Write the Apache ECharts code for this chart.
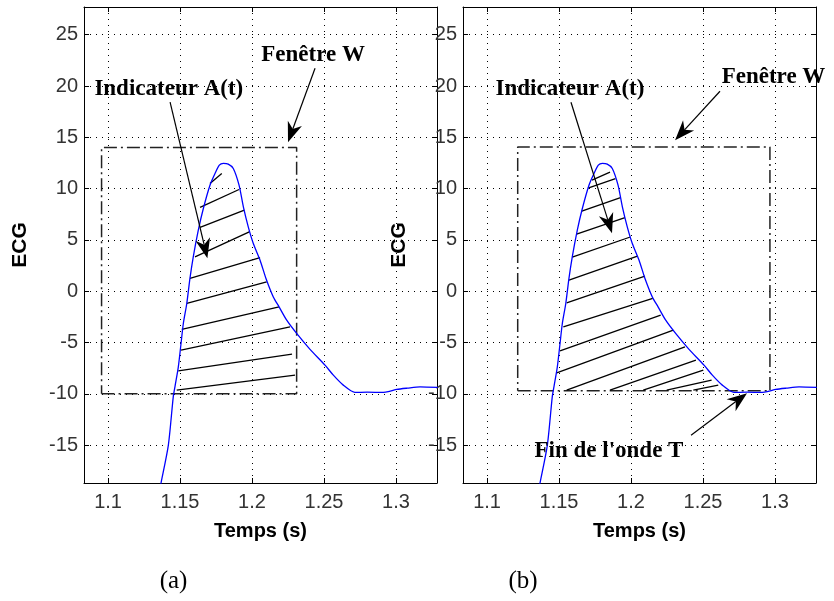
<!DOCTYPE html>
<html>
<head>
<meta charset="utf-8">
<script src="https://cdn.jsdelivr.net/npm/echarts@6/dist/echarts.min.js"></script>
<style>
html,body{margin:0;padding:0;background:#fff}
#chart{width:834px;height:601px}
</style>
</head>
<body>
<div id="chart"></div>
<script>
// ECG around the T wave: time (s) and amplitude
const ecgTime  = [1.1350, 1.1368, 1.1419, 1.1453, 1.1465, 1.1488, 1.1507, 1.1523, 1.1547, 1.1569, 1.1592, 1.1627, 1.1662, 1.1708, 1.1743, 1.1773, 1.1801, 1.1835, 1.1870, 1.1910, 1.1940, 1.1974, 1.2009, 1.2056, 1.2097, 1.2148, 1.2188, 1.2241, 1.2310, 1.2403, 1.2507, 1.2565, 1.2634, 1.2715, 1.2800, 1.2912, 1.2960, 1.3005, 1.3080, 1.3167, 1.3290];
const ecgValue = [-20.0, -18.7, -15.0, -10.3, -9.3, -7.4, -5.1, -3.15, -1.2, 1.24, 3.34, 5.95, 8.06, 10.33, 11.47, 12.28, 12.45, 12.38, 11.96, 10.33, 8.22, 6.27, 4.65, 3.02, 1.24, -0.56, -1.53, -2.83, -4.12, -5.67, -7.21, -8.19, -9.16, -9.87, -9.85, -9.87, -9.75, -9.58, -9.45, -9.33, -9.38];

// Axis ticks
const timeTicks = [1.1, 1.15, 1.2, 1.25, 1.3];
const ecgTicks = [-15, -10, -5, 0, 5, 10, 15, 20, 25];
const timeRange = [1.0833, 1.3285];
const ecgRange = [-18.7, 27.7];

// Analysis window W: [tStart, tEnd, vLow, vHigh]
const windowA = [1.0955, 1.2310, -10.0, 14.0];
const windowB = [1.1213, 1.2965, -9.7, 14.05];

// Hatching of the area indicator A(t): [t0, v0, t1, v1]
const hatchA = [
  [1.1708, 10.50, 1.1790, 11.47],
  [1.1639, 8.16, 1.1910, 9.91],
  [1.1639, 6.21, 1.1947, 7.89],
  [1.1604, 3.34, 1.1981, 5.78],
  [1.1569, 1.24, 1.2056, 3.28],
  [1.1547, -1.20, 1.2102, 0.91],
  [1.1512, -3.73, 1.2188, -1.53],
  [1.1507, -5.75, 1.2264, -3.48],
  [1.1488, -7.77, 1.2278, -6.14],
  [1.1477, -9.65, 1.2299, -8.19]
];
const hatchB = [
  [1.1729, 10.82, 1.1854, 11.60],
  [1.1701, 10.04, 1.1892, 10.96],
  [1.1658, 7.80, 1.1927, 9.11],
  [1.1622, 5.56, 1.1958, 7.17],
  [1.1592, 3.31, 1.1995, 5.28],
  [1.1569, 1.07, 1.2045, 3.41],
  [1.1553, -1.14, 1.2097, 1.46],
  [1.1530, -3.48, 1.2151, -0.71],
  [1.1507, -5.82, 1.2206, -2.34],
  [1.1484, -7.96, 1.2294, -3.80],
  [1.1553, -9.65, 1.2375, -5.43],
  [1.1854, -9.65, 1.2451, -6.73],
  [1.2085, -9.65, 1.2502, -7.70],
  [1.2248, -9.65, 1.2560, -8.67],
  [1.2433, -9.65, 1.2606, -9.16]
];

// Annotations: text [t, v, label] and arrows [tFrom, vFrom, tTip, vTip]
const labelsA = [
  [1.1422, 19.69, 'Indicateur A(t)'],
  [1.2424, 23.0, 'Fenêtre W']
];
const arrowsA = [
  [1.1431, 18.42, 1.1690, 3.2],
  [1.2438, 21.73, 1.2250, 14.52]
];
const labelsB = [
  [1.1576, 19.69, 'Indicateur A(t)'],
  [1.2990, 20.86, 'Fenêtre W'],
  [1.1847, -15.6, "Fin de l'onde T"]
];
const arrowsB = [
  [1.1583, 18.42, 1.1868, 5.65],
  [1.2618, 19.49, 1.2306, 14.72],
  [1.2417, -14.04, 1.2806, -9.94]
];

const panelNames = ['(a)', '(b)'];

const sansFont = '"Liberation Sans", Arial, sans-serif';
const serifFont = '"Liberation Serif", "Times New Roman", serif';

const panels = [
  { left: 84, win: windowA, hatch: hatchA, labels: labelsA, arrows: arrowsA },
  { left: 463, win: windowB, hatch: hatchB, labels: labelsB, arrows: arrowsB }
];
const plotTop = 7, plotW = 353, plotH = 476;

const grids = [], xAxes = [], yAxes = [], series = [];

panels.forEach((p, i) => {
  grids.push({ left: p.left, top: plotTop, width: plotW, height: plotH, show: true, backgroundColor: '#fff', borderWidth: 0 });
  const tickStyle = { show: true, inside: true, length: 5, lineStyle: { color: '#000', width: 1 } };
  const lineStyle = { show: true, onZero: false, lineStyle: { color: '#000', width: 1 } };
  const dotted = { show: true, lineStyle: { color: '#000', width: 1, type: [1, 5] } };
  xAxes.push({
    gridIndex: i, type: 'value', position: 'bottom',
    min: timeRange[0], max: timeRange[1], minInterval: 0.05, maxInterval: 0.05,
    axisLine: lineStyle, axisTick: tickStyle, splitLine: dotted,
    axisLabel: {
      showMinLabel: false, showMaxLabel: false, margin: 9,
      fontFamily: sansFont, fontSize: 20, color: '#333',
      formatter: v => timeTicks.some(t => Math.abs(t - v) < 1e-6) ? String(+v.toFixed(2)) : ''
    },
    name: 'Temps (s)', nameLocation: 'middle', nameGap: 38,
    nameTextStyle: { fontFamily: sansFont, fontSize: 20, fontWeight: 'bold', color: '#000' }
  });
  xAxes.push({
    gridIndex: i, type: 'value', position: 'top',
    min: timeRange[0], max: timeRange[1], minInterval: 0.05, maxInterval: 0.05,
    axisLine: lineStyle, axisTick: tickStyle, axisLabel: { show: false }, splitLine: { show: false }
  });
  yAxes.push({
    gridIndex: i, type: 'value', position: 'left',
    min: ecgRange[0], max: ecgRange[1], minInterval: 5, maxInterval: 5,
    axisLine: lineStyle, axisTick: tickStyle, splitLine: dotted,
    axisLabel: {
      showMinLabel: false, showMaxLabel: false, margin: 6,
      fontFamily: sansFont, fontSize: 20, color: '#333',
      formatter: v => ecgTicks.some(t => Math.abs(t - v) < 1e-6) ? String(Math.round(v)) : ''
    },
    name: 'ECG', nameLocation: 'middle', nameRotate: 90, nameGap: 53,
    nameTextStyle: { fontFamily: sansFont, fontSize: 21, fontWeight: 'bold', color: '#000' }
  });
  yAxes.push({
    gridIndex: i, type: 'value', position: 'right',
    min: ecgRange[0], max: ecgRange[1], minInterval: 5, maxInterval: 5,
    axisLine: lineStyle, axisTick: tickStyle, axisLabel: { show: false }, splitLine: { show: false }
  });

  const xi = 2 * i, yi = 2 * i;

  // window W (dash-dot rectangle)
  const w = p.win;
  series.push({
    type: 'line', xAxisIndex: xi, yAxisIndex: yi, showSymbol: false, silent: true, z: 2,
    data: [[w[0], w[2]], [w[1], w[2]], [w[1], w[3]], [w[0], w[3]], [w[0], w[2]]],
    lineStyle: { color: '#222', width: 1.5, type: [13, 4, 2, 4] }
  });

  // hatching
  series.push({
    type: 'lines', coordinateSystem: 'cartesian2d', xAxisIndex: xi, yAxisIndex: yi, silent: true, z: 3,
    data: p.hatch.map(s => ({ coords: [[s[0], s[1]], [s[2], s[3]]] })),
    lineStyle: { color: '#000', width: 1.3, opacity: 1 }
  });

  // ECG trace
  series.push({
    type: 'line', xAxisIndex: xi, yAxisIndex: yi, showSymbol: false, silent: true, z: 4,
    smooth: 0.25,
    data: ecgTime.map((t, k) => [t, ecgValue[k]]),
    lineStyle: { color: '#0000ff', width: 1.3 }
  });

  // annotation arrows
  series.push({
    type: 'custom', xAxisIndex: xi, yAxisIndex: yi, silent: true, z: 5,
    data: p.arrows,
    encode: { x: [0, 2], y: [1, 3] },
    renderItem: (params, api) => {
      const a = api.coord([api.value(0), api.value(1)]);
      const b = api.coord([api.value(2), api.value(3)]);
      const dx = b[0] - a[0], dy = b[1] - a[1];
      const len = Math.hypot(dx, dy), ux = dx / len, uy = dy / len;
      const L = 20, W = 7.5, N = 6;
      const bx = b[0] - ux * L, by = b[1] - uy * L;
      const nx = b[0] - ux * (L - N), ny = b[1] - uy * (L - N);
      return {
        type: 'group',
        children: [
          { type: 'line', shape: { x1: a[0], y1: a[1], x2: nx, y2: ny }, style: { stroke: '#000', lineWidth: 1.2 } },
          { type: 'polygon', shape: { points: [b, [bx - uy * W, by + ux * W], [nx, ny], [bx + uy * W, by - ux * W]] }, style: { fill: '#000' } }
        ]
      };
    }
  });

  // annotation texts
  series.push({
    type: 'custom', xAxisIndex: xi, yAxisIndex: yi, silent: true, z: 6,
    data: p.labels.map(l => [l[0], l[1]]),
    renderItem: (params, api) => {
      const c = api.coord([api.value(0), api.value(1)]);
      return {
        type: 'text', x: c[0], y: c[1],
        style: { text: p.labels[params.dataIndex][2], font: 'bold 23px ' + serifFont, fill: '#000', align: 'center', verticalAlign: 'middle' }
      };
    }
  });
});

const chart = echarts.init(document.getElementById('chart'), null, { renderer: 'canvas' });
chart.setOption({
  animation: false,
  backgroundColor: '#fff',
  grid: grids,
  xAxis: xAxes,
  yAxis: yAxes,
  series: series,
  graphic: panelNames.map((t, i) => ({
    type: 'text', x: i === 0 ? 173.5 : 523, y: 581,
    style: { text: t, font: '25px ' + serifFont, fill: '#000', align: 'center', verticalAlign: 'middle' }
  }))
});
</script>
</body>
</html>
